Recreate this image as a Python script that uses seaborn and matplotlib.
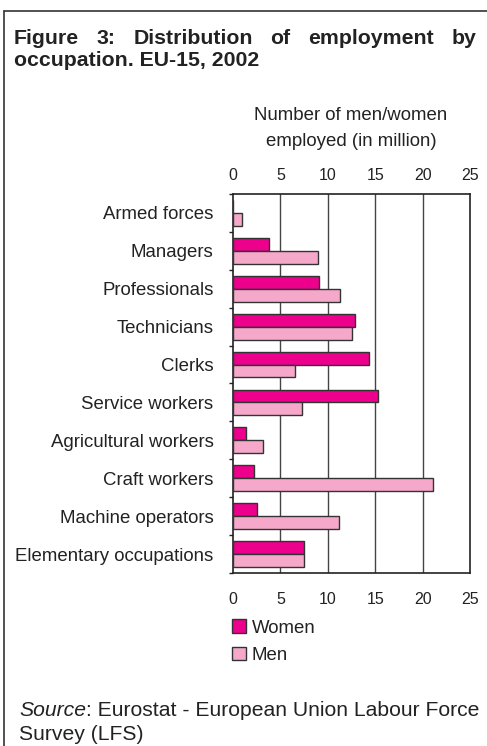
import numpy as np
import pandas as pd
import matplotlib
matplotlib.use('Agg')
import matplotlib.pyplot as plt
from matplotlib.lines import Line2D
from matplotlib.ticker import FixedLocator
import seaborn as sns

# ── Data ───────────────────────────────────────────────────────────────────────
occupations = ['Armed forces', 'Managers', 'Professionals', 'Technicians', 'Clerks',
               'Service workers', 'Agricultural workers', 'Craft workers',
               'Machine operators', 'Elementary occupations']
women = [0.0, 3.8, 9.1, 12.9, 14.3, 15.3, 1.4, 2.2, 2.5, 7.5]
men = [1.0, 9.0, 11.3, 12.6, 6.5, 7.3, 3.2, 21.1, 11.2, 7.5]
x_ticks = [0, 5, 10, 15, 20, 25]
x_ticklabels = ['0', '5', '10', '15', '20', '25']

df = pd.DataFrame({
    'occupation': occupations * 2,
    'value': women + men,
    'sex': ['Women'] * len(women) + ['Men'] * len(men),
})

# ── Setup ──────────────────────────────────────────────────────────────────────
sns.set_theme(style='white')
plt.rcParams['font.family'] = ['Liberation Sans', 'DejaVu Sans']
TXT = '#222222'
PAL = {'Women': '#EC008C', 'Men': '#F5A8CA'}

W, H = 487, 746
fig = plt.figure(figsize=(W / 100, H / 100), dpi=100)
ax = fig.add_axes([233 / W, 1 - 573 / H, 237 / W, 379 / H])

sns.barplot(data=df, y='occupation', x='value', hue='sex', orient='h',
            palette=PAL, saturation=1, width=0.68, edgecolor='#333333',
            linewidth=1.0, ax=ax, zorder=3)

ax.set_xlim(0, 25)
ax.set_ylim(len(occupations) - 0.5, -0.5)
ax.set_xlabel('')
ax.set_ylabel('')

# grid + spines
ax.set_xticks(x_ticks)
ax.set_xticklabels(x_ticklabels)
for v in x_ticks[1:-1]:
    ax.axvline(v, color='#444444', lw=1.0, zorder=1)
for s in ax.spines.values():
    s.set_visible(True)
    s.set_color('#222222')
    s.set_linewidth(1.2)

ax.tick_params(axis='x', length=0, labelsize=11.5, pad=14, colors=TXT)
top = ax.secondary_xaxis('top')
top.set_xticks(x_ticks)
top.set_xticklabels(x_ticklabels)
top.tick_params(length=0, labelsize=11.5, pad=8, colors=TXT)
top.spines['top'].set_visible(False)

ax.set_yticks(range(len(occupations)))
ax.set_yticklabels(occupations)
ax.tick_params(axis='y', which='major', length=0, labelsize=13.4, pad=14, colors=TXT)
ax.yaxis.set_minor_locator(FixedLocator(np.arange(-0.5, len(occupations), 1)))
ax.tick_params(axis='y', which='minor', left=True, length=3, width=1.0,
               color='#222222', direction='out')

# legend below chart
handles, labels = ax.get_legend_handles_labels()
ax.get_legend().remove()
fig.legend(handles, labels, loc='upper left', bbox_to_anchor=(223 / W, 1 - 610 / H),
           frameon=False, fontsize=13.4, handlelength=0.75, handleheight=0.75,
           handletextpad=0.3, labelspacing=0.55, borderpad=0, labelcolor=TXT)

# axis title
fig.text(351 / W, 1 - 116 / H, 'Number of men/women', ha='center', va='center',
         fontsize=13.4, color=TXT)
fig.text(351 / W, 1 - 142 / H, 'employed (in million)', ha='center', va='center',
         fontsize=13.4, color=TXT)

# title: first line justified between the box edges
fig.canvas.draw()
renderer = fig.canvas.get_renderer()
words = ['Figure', '3:', 'Distribution', 'of', 'employment', 'by']
x0, x1, ty = 14, 476, 1 - 38 / H
arts = [fig.text(0, ty, w, fontsize=15.3, fontweight='bold', va='center', color=TXT)
        for w in words]
widths = [a.get_window_extent(renderer).width for a in arts]
gap = (x1 - x0 - sum(widths)) / (len(words) - 1)
xp = x0
for a, w in zip(arts, widths):
    a.set_x(xp / W)
    xp += w + gap
fig.text(x0 / W, 1 - 60 / H, 'occupation. EU-15, 2002', fontsize=15.3,
         fontweight='bold', va='center', color=TXT)

# source note
src = fig.text(19 / W, 1 - 710 / H, 'Source', fontsize=15.2, style='italic',
               va='center', color=TXT)
fig.canvas.draw()
ax.annotate(': Eurostat - European Union Labour Force', xy=(1, 0), xycoords=src,
            va='bottom', ha='left', fontsize=15.2, color=TXT, annotation_clip=False)
fig.text(19 / W, 1 - 735 / H, 'Survey (LFS)', fontsize=15.2, va='center', color=TXT)

# frame lines of the box
fig.add_artist(Line2D([4 / W, 1], [1 - 11 / H, 1 - 11 / H], color='#333333', lw=1.2))
fig.add_artist(Line2D([4 / W, 4 / W], [0, 1 - 11 / H], color='#333333', lw=1.2))

fig.savefig('out.png', dpi=100)
